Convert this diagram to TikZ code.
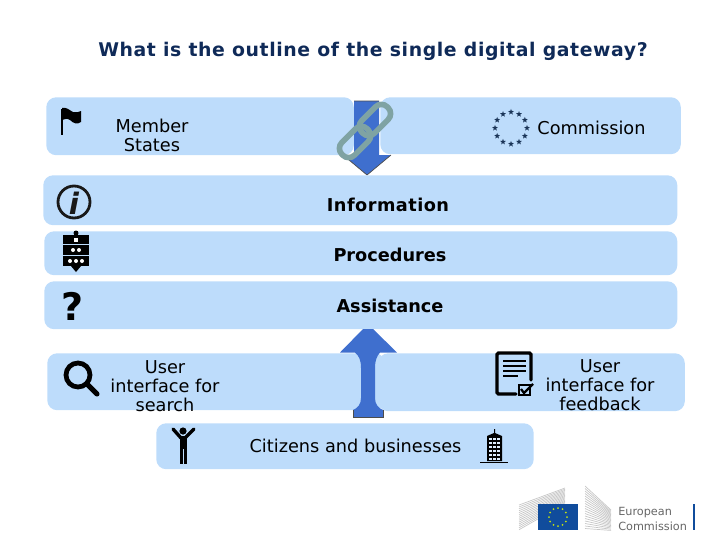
\documentclass[tikz,border=0pt]{standalone}
\usepackage{fontspec}
\setmainfont{DejaVu Sans}
\newfontfamily\sperrfont[LetterSpace=3.2]{DejaVu Sans Bold}
\newfontfamily\infofont[LetterSpace=2.6]{DejaVu Sans Bold}
\definecolor{barblau}{HTML}{BDDCFB}
\definecolor{pfeilblau}{HTML}{3F6FCE}
\definecolor{kettegrau}{HTML}{7FA3A3}
\definecolor{titelblau}{HTML}{0F2A58}
\definecolor{sternblau}{HTML}{1B3558}
\definecolor{flagblau}{HTML}{104C9C}
\usetikzlibrary{arrows.meta, shapes, positioning, calc}

\begin{document}
\begin{tikzpicture}[x=0.025cm, y=-0.025cm, every node/.style={font=\fontsize{12.6}{13.6}\selectfont}]
        \tikzset{
          bar/.style={fill=barblau, rounded corners=7pt, inner sep=0pt, anchor=north west},
          label/.style={align=center, inner sep=0pt, text=black},
          strong/.style={inner sep=0pt, font=\fontsize{12.6}{13.6}\selectfont\bfseries},
          blockarrow/.style={fill=pfeilblau, draw=none},
          arrowline/.style={draw=black!70, line width=0.5pt},
          link/.style={draw=kettegrau, line width=4pt, rounded corners=6pt},
          icon/.style={fill=black, draw=none},
          euro/.style={star, star points=5, star point ratio=2.4, fill=sternblau, inner sep=0pt, minimum size=4.4pt},
          stripe/.style={draw=black!22, line width=0.5pt}
        }
        \useasboundingbox (0,0) rectangle (720,540);

        \node[inner sep=0pt, text=titelblau, font=\fontsize{13.4}{15}\selectfont\sperrfont] (title) at (373,51)
              {What is the outline of the single digital gateway?};

        % arrow behind the two top bars
        \path[blockarrow] (354,101) -- (379,101) -- (379,155) -- (391,155)
              -- (367,175) -- (343,155) -- (354,155) -- cycle;
        \draw[arrowline] (354,101) -- (379,101) (391,155) -- (367,175) -- (343,155);

        \node[bar, minimum width=308*0.71pt, minimum height=58*0.71pt] (member) at (46,97) {};
        \node[bar, minimum width=301*0.71pt, minimum height=57*0.71pt] (commission) at (380,97) {};
        \path[fill=pfeilblau] (354.5,102) rectangle (378.5,156);
        \node[bar, minimum width=635*0.71pt, minimum height=50*0.71pt] (information) at (43,175) {};
        \node[bar, minimum width=634*0.71pt, minimum height=44*0.71pt] (procedures) at (44,231) {};
        \node[bar, minimum width=634*0.71pt, minimum height=48*0.71pt] (assistance) at (44,281) {};
        \node[bar, minimum width=338*0.71pt, minimum height=57*0.71pt] (search) at (47,353) {};
        \node[bar, minimum width=307*0.71pt, minimum height=58*0.71pt] (feedback) at (378,353) {};
        \node[bar, minimum width=378*0.71pt, minimum height=46*0.71pt] (citizens) at (156,423) {};

        % arrow in front of the lower bars
        \path[blockarrow] (353,417) -- (353,410) .. controls (358,408) and (361,404) .. (361,398)
              -- (361,368) .. controls (361,360) and (359,356) .. (355,352.5) -- (340,352.5)
              -- (363,329) -- (373,329) -- (397,352.5) -- (380,352.5) .. controls (377,356) and (375,360) .. (375,368)
              -- (375,398) .. controls (375,404) and (378,408) .. (383,410) -- (383,417) -- cycle;
        \draw[arrowline] (353,410) -- (353,417) -- (383,417) -- (383,410);

        \node[label] (memberText) at (152,135.5) {Member\\States};
        \node[label] (commissionText) at (591.5,128) {Commission};
        \node[strong, font=\fontsize{12.6}{13.6}\selectfont\infofont] (informationText) at (388,205) {Information};
        \node[strong] (proceduresText) at (390,255) {Procedures};
        \node[strong] (assistanceText) at (390,306) {Assistance};
        \node[label] (searchText) at (165,386) {User\\interface for\\search};
        \node[label] (feedbackText) at (600,385) {User\\interface for\\feedback};
        \node[label] (citizensText) at (355.5,446) {Citizens and businesses};

        % chain
        \draw[link, rotate around={45:(355,142)}] (337,133) rectangle (373,151);
        \draw[link, rotate around={45:(375,120)}] (357,111) rectangle (393,129);

        % flag
        \fill[icon] (61,109) rectangle (63,135);
        \fill[icon] (62,108) .. controls (67,107) and (69,110) .. (73,112)
              .. controls (76,113) and (79,112) .. (81,111) -- (81,122)
              .. controls (77,125) and (73,123) .. (70,120) .. controls (67,118) and (65,119) .. (62,120) -- cycle;

        % stars of the commission
        \foreach \i in {0,30,...,330}
          \node[euro] (star\i) at ($(511,128)+(\i:16)$) {};

        % info
        \draw[black!90, line width=2pt] (74,202) circle (16);
        \node[inner sep=0pt, font=\fontsize{21}{21}\selectfont\rmfamily\bfseries\itshape, text=black!90] (infoI) at (74,203) {i};

        % procedures
        \fill[icon] (63,235) rectangle (89,266);
        \fill[icon] (76,233) circle (2.5);
        \fill[icon] (71,266) -- (81,266) -- (76,272) -- cycle;
        \draw[barblau, line width=0.7pt] (63,244.5) -- (89,244.5) (63,255) -- (89,255);
        \fill[white] (74,238) rectangle (78,242);
        \foreach \x in {73,79} \fill[white] (\x,250) circle (2);
        \foreach \x in {70,76,82} \fill[white] (\x,261) circle (2);

        % question mark
        \node[inner sep=0pt, font=\fontsize{27}{27}\selectfont\bfseries] (question) at (73,306) {?};

        % magnifier
        \draw[black, line width=3.4pt] (78,375) circle (12);
        \draw[black, line width=3.6pt, line cap=round] (88,385) -- (97,394);

        % person
        \fill[icon] (183,431) circle (3.6);
        \fill[icon] (179.5,436) rectangle (187,464);
        \draw[black, line width=2.4pt, line cap=round] (181,438) -- (173,429) (185,438) -- (194,429);
        \draw[barblau, line width=0.5pt] (183,449) -- (183,465);

        % document
        \draw[black, line width=2.4pt, line cap=round, rounded corners=1pt] (516,394) -- (497,394) -- (497,353) -- (531,353) -- (531,380);
        \foreach \y in {361,366,371} \draw[black, line width=1.8pt] (503,\y) -- (526,\y);
        \draw[black, line width=1.8pt] (503,376) -- (518,376);
        \draw[black, line width=0.8pt] (519,385) rectangle (530,395);
        \draw[black, line width=1.6pt] (521,389) -- (524,393) -- (533,384);

        % building
        \fill[icon] (487,436) -- (494,433) -- (494,429) -- (495,429) -- (495,433) -- (502,436) -- (502,461) -- (487,461) -- cycle;
        \draw[black, line width=0.5pt] (480,462) -- (508,462);
        \foreach \y in {438,442,...,458} \foreach \x in {489,493,497}
          \fill[barblau!50!white] (\x,\y) rectangle +(2.6,2.2);

        % logo
        \foreach \i in {0,...,13}
          \draw[stripe] (519,{505+\i*1.9}) -- (565,{488+\i*1.2});
        \foreach \i in {0,...,17}
          \draw[stripe] (585,{486+\i*2.5}) -- (611,{510+\i*1.2});
        \fill[flagblau] (538,504) rectangle (578,530);
        \foreach \i in {0,30,...,330}
          \fill[yellow!75!green] ($(558,517)+(\i:9)$) circle (1);
        \node[inner sep=0pt, anchor=west, text=black!60, font=\fontsize{8}{8}\selectfont] (logoA) at (618,512.5) {European};
        \node[inner sep=0pt, anchor=west, text=black!60, font=\fontsize{8}{8}\selectfont] (logoB) at (618,526) {Commission};
        \fill[flagblau] (692.5,504) rectangle (694.5,530);
      \end{tikzpicture}
\end{document}
